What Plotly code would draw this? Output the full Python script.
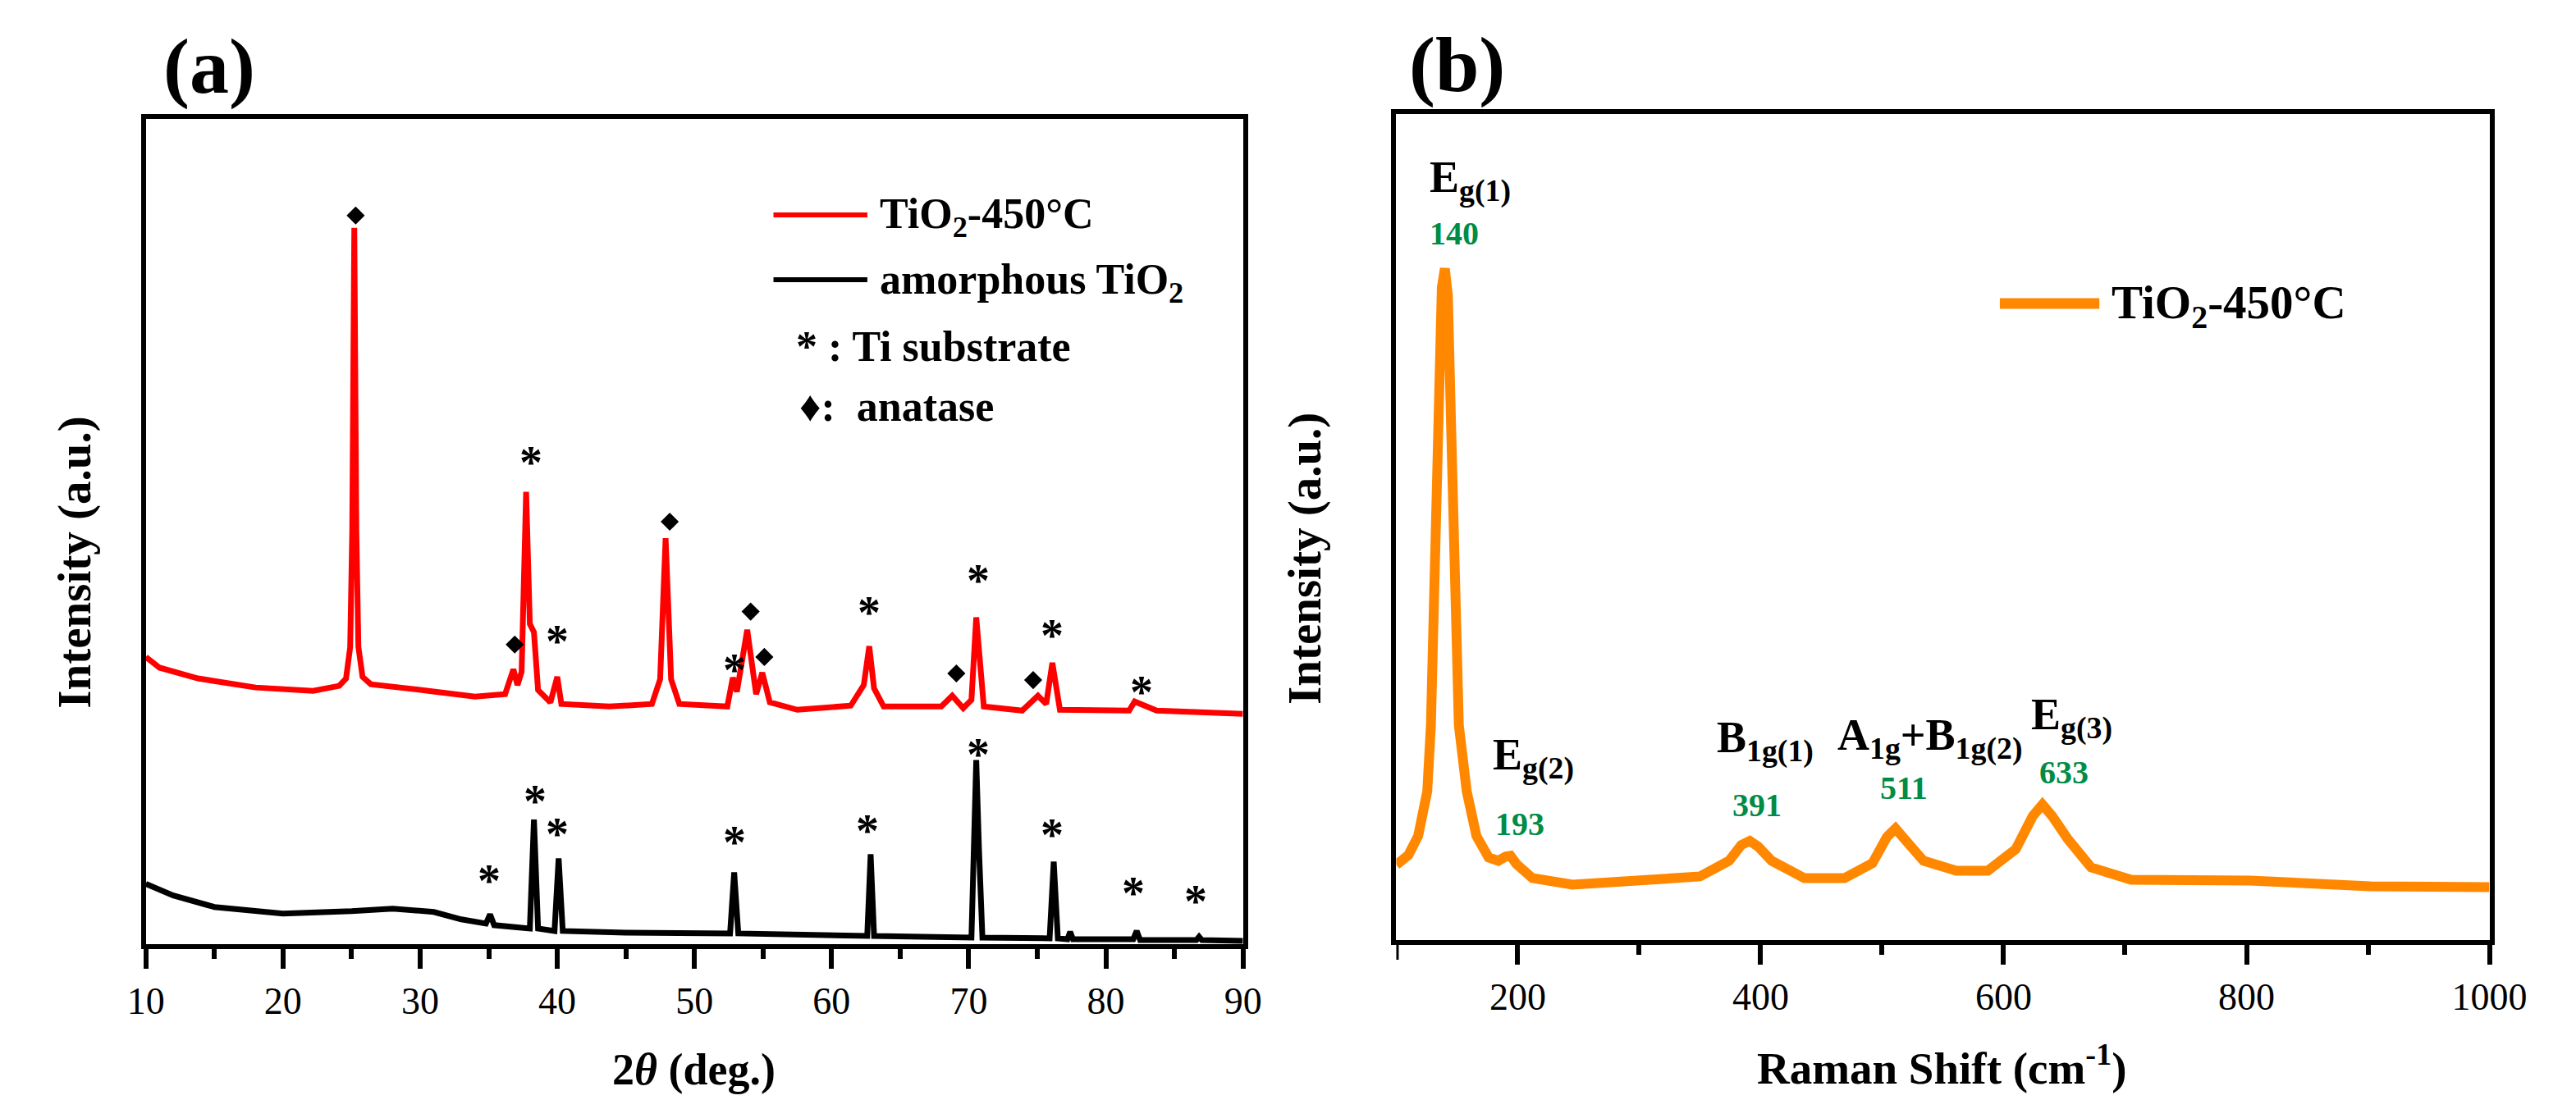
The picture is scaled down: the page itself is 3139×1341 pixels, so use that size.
import plotly.graph_objects as go

W, H = 3139, 1341

# (a) XRD patterns, 2theta (deg.) vs intensity (a.u.)
red_x = [10, 11, 13.8, 18, 22.2, 24.1, 24.6, 24.9, 25.05, 25.2, 25.35, 25.5, 25.8, 26.4,
         30.6, 34.0, 36.2, 36.8, 37.1, 37.4, 37.73, 38.0, 38.3, 38.6, 39.5, 40.0, 40.3,
         43.8, 46.9, 47.5, 47.9, 48.3, 48.9, 52.4, 52.8, 53.1, 53.85, 54.5, 54.95, 55.5,
         57.5, 61.4, 62.35, 62.75, 63.1, 63.8, 68.0, 68.8, 69.6, 70.2, 70.55, 70.85, 71.1,
         73.9, 75.05, 75.65, 76.1, 76.65, 81.7, 82.1, 83.7, 90]
red_y = [34.8, 33.5, 32.2, 31.1, 30.7, 31.3, 32.2, 36.0, 50.0, 86.8, 50.0, 36.0, 32.4, 31.5,
         30.7, 30.0, 30.3, 33.3, 31.4, 33.0, 54.8, 38.8, 37.8, 30.8, 29.3, 32.4, 29.1,
         28.8, 29.1, 32.1, 49.2, 32.1, 29.1, 28.8, 32.3, 30.6, 38.1, 30.3, 32.9, 29.3,
         28.4, 28.9, 31.4, 36.1, 31.0, 28.8, 28.8, 30.1, 28.6, 29.6, 39.6, 33.8, 28.8,
         28.3, 30.1, 29.1, 34.1, 28.4, 28.3, 29.4, 28.3, 27.9]

black_x = [10, 12, 15, 20, 25, 28, 31, 33, 34.8, 35.1, 35.4, 38.0, 38.3, 38.6, 39.8, 40.1,
           40.4, 45, 52.6, 52.9, 53.2, 60, 62.6, 62.85, 63.1, 70.2, 70.55, 70.75, 71.0,
           75.9, 76.2, 76.5, 77.2, 77.4, 77.6, 82.0, 82.25, 82.5, 86.6, 86.8, 87.0, 90]
black_y = [7.3, 5.9, 4.5, 3.7, 4.0, 4.3, 3.9, 3.0, 2.5, 3.6, 2.3, 1.9, 15.1, 1.9, 1.6, 10.4,
           1.6, 1.4, 1.3, 8.7, 1.3, 1.0, 1.0, 10.9, 1.0, 0.8, 22.3, 11.5, 0.8,
           0.7, 10.0, 0.7, 0.6, 1.5, 0.6, 0.6, 1.6, 0.5, 0.5, 0.9, 0.5, 0.4]

# peak marks: * Ti substrate, diamond anatase
star_x = [38.1, 40.0, 52.9, 62.75, 70.7, 76.1, 82.6,
          35.0, 38.4, 40.0, 52.9, 62.6, 70.7, 76.1, 82.0, 86.55]
star_y = [59.1, 37.4, 33.9, 40.9, 44.7, 38.1, 31.2,
          8.4, 18.0, 14.0, 13.0, 14.4, 23.7, 13.9, 6.9, 5.9]
diamond_x = [25.3, 36.9, 48.2, 54.1, 55.1, 69.1, 74.7]
diamond_y = [88.3, 36.3, 51.2, 40.3, 34.8, 32.8, 32.0]

# (b) Raman spectrum
raman_x = [100, 110, 118, 125.5, 128.5, 131.5, 134.5, 137.5, 140, 142.5, 145, 148, 151.5,
           158, 166, 176, 184, 190, 194, 199, 212, 245, 311, 350, 374, 384, 391, 398,
           409, 436, 469, 492, 504, 511, 518, 534, 561, 587, 610, 624, 632, 640, 653,
           672, 705, 803, 902, 1000]
raman_y = [9.1, 10.3, 12.6, 18.0, 26.0, 45.0, 67.0, 79.0, 81.3, 78.0, 63.0, 45.0, 26.0,
           18.0, 12.6, 10.0, 9.6, 10.1, 10.2, 9.2, 7.5, 6.7, 7.2, 7.7, 9.6, 11.5, 12.0, 11.3,
           9.6, 7.5, 7.5, 9.3, 12.5, 13.5, 12.3, 9.6, 8.4, 8.4, 11.0, 15.0, 16.4, 15.0, 12.2,
           8.8, 7.3, 7.2, 6.5, 6.4]

mode_labels = ["E<sub>g(1)</sub>", "E<sub>g(2)</sub>", "B<sub>1g(1)</sub>",
               "A<sub>1g</sub>+B<sub>1g(2)</sub>", "E<sub>g(3)</sub>"]
mode_x = [125.8, 178, 362.4, 462, 621.5]
mode_y = [92.0, 22.0, 24.1, 24.4, 26.9]
shift_labels = ["140", "193", "391", "511", "633"]
shift_x = [125.8, 180, 375.6, 497, 628]
shift_y = [85.6, 14.1, 16.3, 18.4, 20.3]

FONT = "Liberation Serif"
GREEN = "#008C46"
ORANGE = "#FF8800"


def px(x):
    return x / W


def py(y):
    return 1 - y / H


fig = go.Figure()

fig.add_trace(go.Scatter(x=red_x, y=red_y, mode="lines", name="TiO2-450°C",
                         line=dict(color="#FF0000", width=7), showlegend=False,
                         xaxis="x", yaxis="y"))
fig.add_trace(go.Scatter(x=black_x, y=black_y, mode="lines", name="amorphous TiO2",
                         line=dict(color="black", width=7), showlegend=False,
                         xaxis="x", yaxis="y"))
fig.add_trace(go.Scatter(x=diamond_x, y=diamond_y, mode="markers",
                         marker=dict(symbol="diamond", size=17, color="black"),
                         showlegend=False, xaxis="x", yaxis="y"))

fig.add_trace(go.Scatter(x=raman_x, y=raman_y, mode="lines", name="TiO2-450°C",
                         line=dict(color=ORANGE, width=12), showlegend=False,
                         xaxis="x2", yaxis="y2"))

axis_common = dict(showline=True, linecolor="black", linewidth=6, mirror=True,
                   showgrid=False, zeroline=False)
tick_font = dict(family=FONT, size=46, color="black")

fig.update_layout(
    width=W, height=H, autosize=False,
    margin=dict(l=0, r=0, t=0, b=0),
    paper_bgcolor="white", plot_bgcolor="white",
    xaxis=dict(domain=[px(150), px(1517)], range=[10, 90], anchor="y",
               tickmode="linear", tick0=10, dtick=10, ticks="outside",
               ticklen=24, tickwidth=6, tickcolor="black", tickfont=tick_font,
               minor=dict(dtick=5, tick0=10, ticks="outside", ticklen=12,
                          tickwidth=6, tickcolor="black"),
               **axis_common),
    yaxis=dict(domain=[py(1143), py(137)], range=[0, 100], anchor="x",
               showticklabels=False, ticks="", **axis_common),
    xaxis2=dict(domain=[px(1708), px(3070)], range=[100, 1000], anchor="y2",
                tickmode="array", tickvals=[200, 400, 600, 800, 1000],
                ticktext=["200", "400", "600", "800", "1000"], ticks="outside",
                ticklen=24, tickwidth=6, tickcolor="black", tickfont=tick_font,
                minor=dict(tickmode="array", tickvals=[300, 500, 700, 900],
                           ticks="outside", ticklen=12, tickwidth=6,
                           tickcolor="black"),
                **axis_common),
    yaxis2=dict(domain=[py(1138), py(131)], range=[0, 100], anchor="x2",
                showticklabels=False, ticks="", **axis_common),
)

bold = dict(family=FONT, color="black", weight="bold")
ann = []

# panel tags and axis titles
ann.append(dict(text="(a)", x=px(229), y=py(72), font=dict(size=96, **bold)))
ann.append(dict(text="(b)", x=px(1784), y=py(71), font=dict(size=96, **bold)))
ann.append(dict(text="2<i>θ</i> (deg.)", x=px(833), y=py(1296), font=dict(size=54, **bold)))
ann.append(dict(text="Raman Shift (cm<sup>-1</sup>)", x=px(2388), y=py(1290),
                font=dict(size=55, **bold)))
ann.append(dict(text="Intensity (a.u.)", x=px(61), y=py(678), textangle=-90,
                font=dict(size=57, **bold)))
ann.append(dict(text="Intensity (a.u.)", x=px(1594), y=py(673), textangle=-90,
                font=dict(size=57, **bold)))

# legend of panel (a)
ann.append(dict(text="TiO<sub>2</sub>-450°C", x=px(1062), y=py(257), xanchor="left",
                font=dict(size=52, **bold)))
ann.append(dict(text="amorphous TiO<sub>2</sub>", x=px(1062), y=py(336), xanchor="left",
                font=dict(size=52, **bold)))
ann.append(dict(text="* : Ti substrate", x=px(958), y=py(415), xanchor="left",
                font=dict(size=52, **bold)))
ann.append(dict(text="♦:  anatase", x=px(962), y=py(487), xanchor="left",
                font=dict(size=52, **bold)))

# legend of panel (b)
ann.append(dict(text="TiO<sub>2</sub>-450°C", x=px(2597), y=py(365), xanchor="left",
                font=dict(size=57, **bold)))

for a in ann:
    a.setdefault("xanchor", "center")
    a.update(xref="paper", yref="paper", yanchor="middle", showarrow=False)

# asterisks over the Ti substrate peaks
for x, y in zip(star_x, star_y):
    ann.append(dict(text="*", x=x, y=y - 0.7, xref="x", yref="y", xanchor="center",
                    yanchor="middle", showarrow=False, font=dict(size=56, **bold)))

for t, x, y in zip(mode_labels, mode_x, mode_y):
    ann.append(dict(text=t, x=x, y=y, xref="x2", yref="y2", xanchor="left",
                    yanchor="middle", showarrow=False, font=dict(size=54, **bold)))
for t, x, y in zip(shift_labels, shift_x, shift_y):
    ann.append(dict(text=t, x=x, y=y, xref="x2", yref="y2", xanchor="left",
                    yanchor="middle", showarrow=False,
                    font=dict(family=FONT, size=40, color=GREEN, weight="bold")))

fig.update_layout(annotations=ann)

shapes = [
    dict(type="line", xref="paper", yref="paper", x0=px(932), x1=px(1049),
         y0=py(254), y1=py(254), line=dict(color="#FF0000", width=6)),
    dict(type="line", xref="paper", yref="paper", x0=px(932), x1=px(1049),
         y0=py(333), y1=py(333), line=dict(color="black", width=6)),
    dict(type="line", xref="paper", yref="paper", x0=px(2460), x1=px(2584),
         y0=py(362), y1=py(362), line=dict(color=ORANGE, width=13)),
    # long tick at the left end of the Raman axis
    dict(type="line", xref="x2", yref="paper", x0=100, x1=100,
         y0=py(1138), y1=py(1162), line=dict(color="black", width=6)),
]
fig.update_layout(shapes=shapes)

fig.write_html("out.html")
